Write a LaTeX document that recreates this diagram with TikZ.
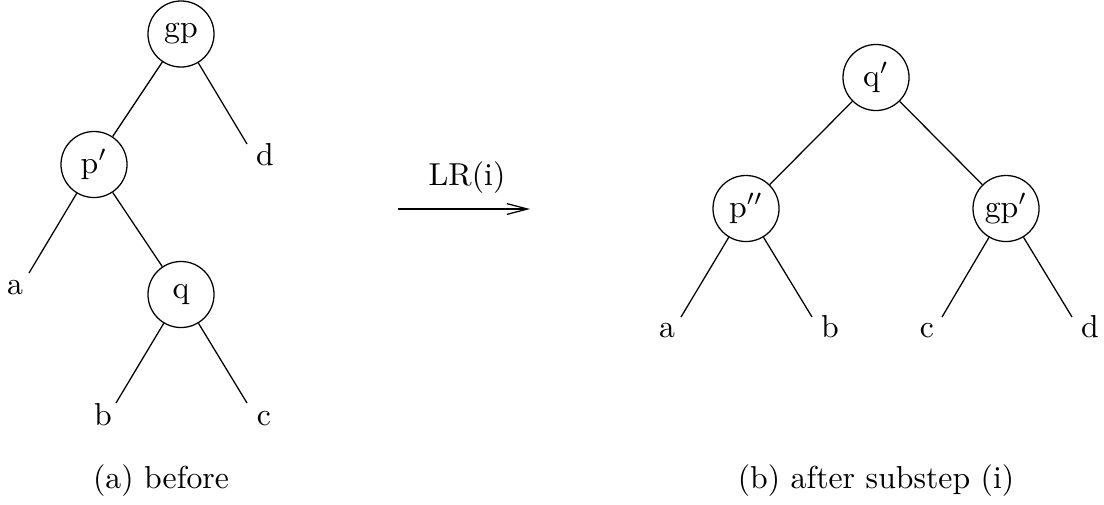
\documentclass[tikz,border=0pt]{standalone}
\usepackage{tikz}
\usetikzlibrary{arrows.meta}

\begin{document}
\begin{tikzpicture}[x=0.315pt, y=-0.315pt,
    treenode/.style={draw, circle, minimum size=20.8pt, inner sep=0pt},
    leaf/.style={anchor=base, inner sep=0pt},
    caption/.style={anchor=base, inner sep=0pt}]
          \useasboundingbox (0,0) rectangle (1104,504);

          % before: gp with p' and q
          \begin{scope}
            \node[treenode] (gp) at (181,34) {gp};
            \node[treenode] (pp) at (94,164.5) {p$'$};
            \node[treenode] (q) at (181,294.5) {q};
            \coordinate (a-end) at (29,273);
            \coordinate (b-end) at (116,403);
            \coordinate (c-end) at (247,403);
            \coordinate (d-end) at (247,144);
            \node[leaf] (a) at (15,294) {a};
            \node[leaf] (b) at (103,425) {b};
            \node[leaf] (c) at (264,425) {c};
            \node[leaf] (d) at (265,165) {d};
            \draw (gp) -- (pp);
            \draw (gp) -- (d-end);
            \draw (pp) -- (a-end);
            \draw (pp) -- (q);
            \draw (q) -- (b-end);
            \draw (q) -- (c-end);
            \node[caption] (cap-a) at (161,488) {(a) before};
          \end{scope}

          % the step
          \coordinate (arr-start) at (398,209);
          \coordinate (arr-end) at (530,209);
          \draw[-{Straight Barb[length=6.5pt, width=3.4pt]}] (arr-start) -- (arr-end);
          \node[caption] (step) at (467,185) {LR(i)};

          % after substep (i): q' on top
          \begin{scope}
            \node[treenode] (qq) at (876,77.5) {q$'$};
            \node[treenode] (ppp) at (746,208.5) {p$''$};
            \node[treenode] (gpp) at (1006,208.5) {gp$'$};
            \coordinate (a2-end) at (681,317);
            \coordinate (b2-end) at (812,317);
            \coordinate (c2-end) at (942,317);
            \coordinate (d2-end) at (1072,317);
            \node[leaf] (a2) at (667,337) {a};
            \node[leaf] (b2) at (830,337) {b};
            \node[leaf] (c2) at (927,337) {c};
            \node[leaf] (d2) at (1090,337) {d};
            \draw (qq) -- (ppp);
            \draw (qq) -- (gpp);
            \draw (ppp) -- (a2-end);
            \draw (ppp) -- (b2-end);
            \draw (gpp) -- (c2-end);
            \draw (gpp) -- (d2-end);
            \node[caption] (cap-b) at (876,488) {(b) after substep (i)};
          \end{scope}
        \end{tikzpicture}
\end{document}
